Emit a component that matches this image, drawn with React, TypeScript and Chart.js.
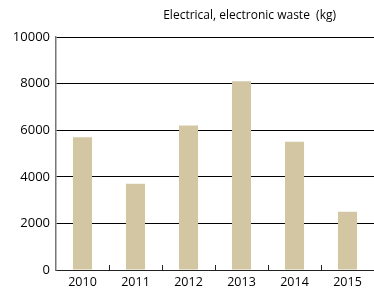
import React, { useEffect, useRef } from "react";
import { Chart, registerables } from "chart.js";

Chart.register(...registerables);

const categories = ["2010", "2011", "2012", "2013", "2014", "2015"];
const wasteKg = [5700, 3700, 6200, 8100, 5500, 2500];
const yTicks = [0, 2000, 4000, 6000, 8000, 10000];
const titleText = "Electrical, electronic waste  (kg)";

const FONT = "'Open Sans', 'Noto Sans', sans-serif";

const innerTicks = {
  id: "innerTicks",
  afterDatasetsDraw(chart: any) {
    const x = chart.scales.x;
    const bottom = chart.chartArea.bottom;
    const ctx = chart.ctx;
    ctx.save();
    ctx.strokeStyle = "#222";
    ctx.lineWidth = 1;
    for (let i = 1; i < categories.length; i++) {
      const px = Math.round((x.getPixelForTick(i - 1) + x.getPixelForTick(i)) / 2) + 0.5;
      ctx.beginPath();
      ctx.moveTo(px, bottom - 5);
      ctx.lineTo(px, bottom);
      ctx.stroke();
    }
    ctx.restore();
  },
};

const titlePlugin = {
  id: "rightTitle",
  afterDraw(chart: any) {
    const ctx = chart.ctx;
    ctx.save();
    ctx.font = `12px ${FONT}`;
    ctx.fillStyle = "#000";
    ctx.textAlign = "right";
    ctx.textBaseline = "middle";
    ctx.fillText(titleText, chart.chartArea.right - 38, 16);
    ctx.restore();
  },
};

export default function App() {
  const ref = useRef<HTMLCanvasElement | null>(null);
  useEffect(() => {
    document.body.style.margin = "0";
    if (!ref.current) return;
    const chart = new Chart(ref.current, {
      type: "bar",
      data: {
        labels: categories,
        datasets: [
          {
            data: wasteKg,
            backgroundColor: "#d3c7a3",
            borderWidth: 0,
            barPercentage: 0.36,
            categoryPercentage: 1,
          },
        ],
      },
      options: {
        animation: false,
        responsive: true,
        maintainAspectRatio: false,
        layout: { padding: { top: 37, right: 0, left: 0, bottom: 0 } },
        plugins: {
          legend: { display: false },
          tooltip: { enabled: false },
          title: { display: false },
        },
        scales: {
          x: {
            offset: true,
            grid: { display: false, drawTicks: false },
            border: { display: true, color: "#222", width: 1 },
            ticks: {
              color: "#000",
              font: { family: FONT, size: 12.5 },
              padding: 5,
              maxRotation: 0,
            },
            afterFit(scale: any) {
              scale.height = 20;
            },
          },
          y: {
            min: 0,
            max: 10000,
            afterBuildTicks(scale: any) {
              scale.ticks = yTicks.map((v) => ({ value: v }));
            },
            grid: { color: "#000", lineWidth: 1, drawTicks: false },
            border: { display: true, color: "#777", width: 1.5 },
            ticks: {
              color: "#000",
              font: { family: FONT, size: 13 },
              padding: 6,
              callback: (v: any) => String(v),
            },
            afterFit(scale: any) {
              scale.width = 56;
            },
          },
        },
      },
      plugins: [innerTicks, titlePlugin],
    });
    return () => chart.destroy();
  }, []);
  return (
    <div style={{ position: "fixed", left: 0, top: 0, width: 374, height: 290 }}>
      <canvas ref={ref} />
    </div>
  );
}
